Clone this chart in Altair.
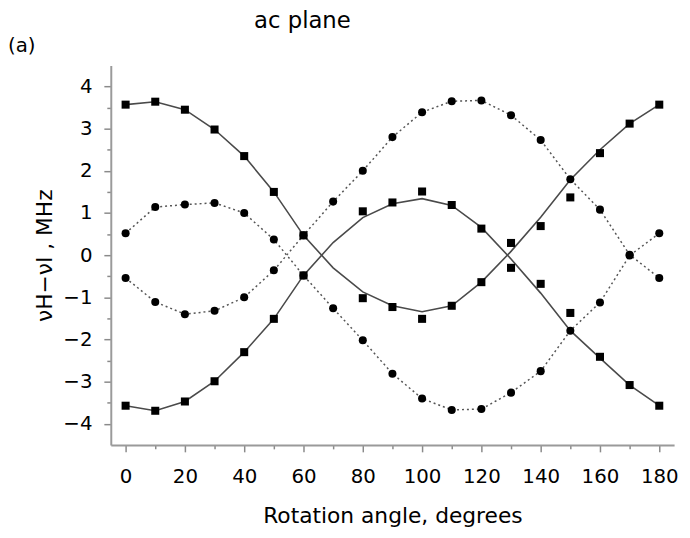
import altair as alt
import pandas as pd

angles = list(range(0, 181, 10))

# measured points (squares)
sq_a = [3.57, 3.64, 3.45, 2.98, 2.35, 1.50, 0.47, None, -1.02, -1.23, -1.51, -1.20, -0.64, 0.29, 0.69, 1.37, 2.42, 3.12, 3.57]
sq_b = [-3.57, -3.69, -3.47, -2.99, -2.30, -1.51, -0.48, None, 1.04, 1.25, 1.51, 1.19, 0.63, -0.30, -0.68, -1.37, -2.41, -3.08, -3.57]
# measured points (circles)
ci_c = [0.52, 1.14, 1.20, 1.24, 1.00, 0.37, -0.48, -1.26, -2.02, -2.81, -3.40, -3.67, -3.65, -3.26, -2.75, -1.79, -1.12, -0.01, 0.52]
ci_d = [-0.54, -1.11, -1.40, -1.32, -1.00, -0.36, 0.47, 1.27, 2.00, 2.80, 3.39, 3.65, 3.67, 3.32, 2.73, 1.80, 1.08, 0.01, -0.54]
# solid fitted curves
fit_a = [3.57, 3.64, 3.45, 2.98, 2.35, 1.50, 0.47, -0.30, -0.87, -1.20, -1.34, -1.20, -0.64, 0.09, 0.90, 1.79, 2.50, 3.12, 3.57]
fit_b = [-3.57, -3.69, -3.47, -2.99, -2.30, -1.51, -0.48, 0.30, 0.89, 1.22, 1.34, 1.18, 0.66, -0.09, -0.90, -1.79, -2.44, -3.08, -3.57]

y_ticks = [v / 2 for v in range(-8, 9)]
x_ticks = angles

FONT = "DejaVu Sans"

pts = []
for name, vals, mk in [("A", sq_a, "square"), ("B", sq_b, "square"), ("C", ci_c, "circle"), ("D", ci_d, "circle")]:
    for a, v in zip(angles, vals):
        if v is not None:
            pts.append({"angle": a, "value": v, "series": name, "marker": mk})
pts_df = pd.DataFrame(pts)

solid = []
for name, vals in [("A", fit_a), ("B", fit_b)]:
    for a, v in zip(angles, vals):
        solid.append({"angle": a, "value": v, "series": name})
solid_df = pd.DataFrame(solid)

dotted = []
for name, vals in [("C", ci_c), ("D", ci_d)]:
    for a, v in zip(angles, vals):
        dotted.append({"angle": a, "value": v, "series": name})
dotted_df = pd.DataFrame(dotted)

xscale = alt.Scale(domain=[-5, 185], nice=False, zero=False)
yscale = alt.Scale(domain=[-4.5, 4.5], nice=False, zero=False)

xaxis = alt.Axis(
    values=x_ticks,
    labelExpr="datum.value % 20 == 0 ? format(datum.value, 'd') : ''",
    tickSize={"condition": {"test": "datum.value % 20 == 0", "value": 7}, "value": 4},
    title="Rotation angle, degrees",
    grid=False,
    labelOverlap=False,
    labelPadding=15,
    titlePadding=20,
)
yaxis = alt.Axis(
    values=y_ticks,
    labelExpr="datum.value % 1 == 0 ? format(datum.value, 'd') : ''",
    tickSize={"condition": {"test": "datum.value % 1 == 0", "value": 7}, "value": 4},
    title="νH−νI , MHz",
    grid=False,
    labelOverlap=False,
    labelPadding=12,
    titlePadding=7,
)

x_enc = alt.X("angle:Q", scale=xscale, axis=xaxis)
y_enc = alt.Y("value:Q", scale=yscale, axis=yaxis)

solid_lines = alt.Chart(solid_df).mark_line(color="#4a4a4a", strokeWidth=1.6).encode(
    x=x_enc, y=y_enc, detail="series:N"
)
dotted_lines = alt.Chart(dotted_df).mark_line(color="#555555", strokeWidth=1.5, strokeDash=[2, 3]).encode(
    x=x_enc, y=y_enc, detail="series:N"
)
points = alt.Chart(pts_df).mark_point(filled=True, color="black", opacity=1, size=66).encode(
    x=x_enc,
    y=y_enc,
    shape=alt.Shape("marker:N", scale=alt.Scale(domain=["square", "circle"], range=["square", "circle"]), legend=None),
    detail="series:N",
)

label_df = pd.DataFrame({"t": ["(a)"], "s": ["ac plane"]})
label = alt.Chart(label_df).mark_text(
    align="left", baseline="alphabetic", fontSize=20, font=FONT, color="black"
).encode(text="t:N", x=alt.value(-104), y=alt.value(-14))
title_txt = alt.Chart(label_df).mark_text(
    align="left", baseline="alphabetic", fontSize=23, font=FONT, color="black"
).encode(text="s:N", x=alt.value(145), y=alt.value(-38))

chart = alt.layer(solid_lines, dotted_lines, points, label, title_txt).properties(
    width=570,
    height=384,
    padding={"left": 104, "top": 55, "right": 8, "bottom": 85},
    autosize=alt.AutoSizeParams(type="none"),
).configure_view(stroke=None).configure_axis(
    domainColor="#9a9a9a",
    domainWidth=2,
    tickColor="#8a8a8a",
    tickWidth=1.5,
    labelFont=FONT,
    titleFont=FONT,
    labelFontSize=20,
    titleFontSize=22,
    titleFontWeight="normal",
    labelColor="black",
    titleColor="black",
)

chart.save("out.html", embed_options={"renderer": "svg", "actions": False})
